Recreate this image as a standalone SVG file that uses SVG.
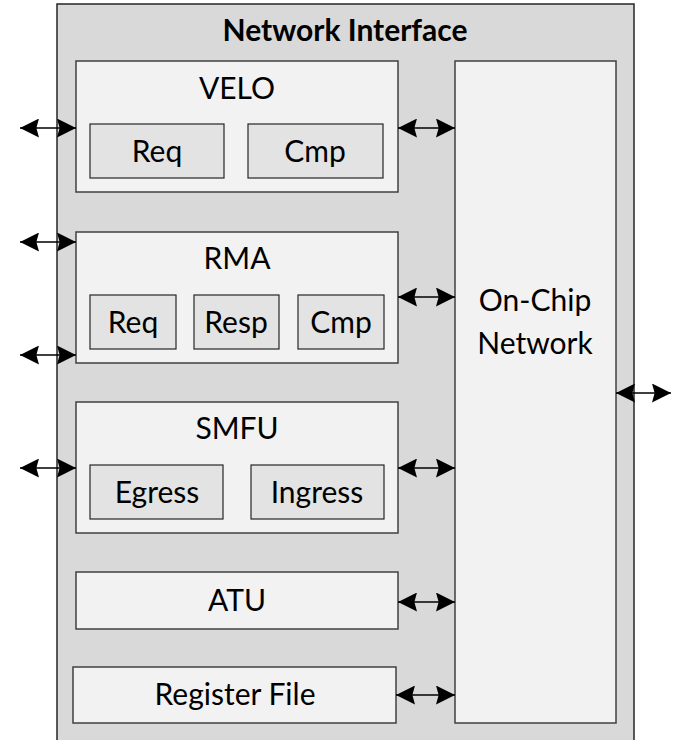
<svg xmlns="http://www.w3.org/2000/svg" width="673" height="740" viewBox="0 0 673 740">
<defs>
<marker id="ah" viewBox="0 0 18 18" refX="18" refY="9" markerWidth="19" markerHeight="19" markerUnits="userSpaceOnUse" orient="auto-start-reverse">
<path d="M0,0 L18,9 L0,18 L2.5,9 z" fill="#000"/>
</marker>
<style>
.outer{fill:#d9d9d9;stroke:#262626;stroke-width:1.5}
.box{fill:#f2f2f2;stroke:#404040;stroke-width:1.5}
.sub{fill:#e3e3e3;stroke:#262626;stroke-width:1.2}
.t{font-family:Lato,"Liberation Sans",sans-serif;font-size:30px;fill:#000;text-anchor:middle}
.b{font-weight:bold;font-size:30px}
.c{stroke:#000;stroke-width:1.4;fill:none;marker-start:url(#ah);marker-end:url(#ah)}
</style>
</defs>
<rect width="673" height="740" fill="#fff"/>
<g id="network-interface">
<rect class="outer" x="57" y="4" width="577" height="745"/>
<text class="t b" x="345" y="41">Network Interface</text>
</g>
<g id="velo">
<rect class="box" x="76" y="61" width="322" height="131"/>
<text class="t" x="237" y="99">VELO</text>
</g>
<g id="velo-req">
<rect class="sub" x="90" y="124" width="134" height="54"/>
<text class="t" x="157" y="162">Req</text>
</g>
<g id="velo-cmp">
<rect class="sub" x="248" y="124" width="135" height="54"/>
<text class="t" x="315" y="162">Cmp</text>
</g>
<g id="rma">
<rect class="box" x="76" y="232" width="322" height="131"/>
<text class="t" x="237" y="269">RMA</text>
</g>
<g id="rma-req">
<rect class="sub" x="90" y="295" width="86" height="54"/>
<text class="t" x="133" y="333">Req</text>
</g>
<g id="rma-resp">
<rect class="sub" x="194" y="295" width="85" height="54"/>
<text class="t" x="236" y="333">Resp</text>
</g>
<g id="rma-cmp">
<rect class="sub" x="298" y="295" width="86" height="54"/>
<text class="t" x="341" y="333">Cmp</text>
</g>
<g id="smfu">
<rect class="box" x="76" y="402" width="322" height="131"/>
<text class="t" x="237" y="439">SMFU</text>
</g>
<g id="smfu-egress">
<rect class="sub" x="90" y="465" width="133" height="54"/>
<text class="t" x="157" y="503">Egress</text>
</g>
<g id="smfu-ingress">
<rect class="sub" x="251" y="465" width="133" height="54"/>
<text class="t" x="317" y="503">Ingress</text>
</g>
<g id="atu">
<rect class="box" x="76" y="572" width="322" height="57"/>
<text class="t" x="237" y="611">ATU</text>
</g>
<g id="register-file">
<rect class="box" x="73" y="667" width="323" height="56"/>
<text class="t" x="235" y="705">Register File</text>
</g>
<g id="on-chip-network">
<rect class="box" x="455" y="61" width="161" height="662"/>
<text class="t" x="535" y="311">On-Chip</text>
<text class="t" x="535" y="354">Network</text>
</g>
<g id="connectors">
<line class="c" x1="20" y1="128" x2="76" y2="128"/>
<line class="c" x1="20" y1="242" x2="76" y2="242"/>
<line class="c" x1="20" y1="355" x2="76" y2="355"/>
<line class="c" x1="20" y1="468" x2="76" y2="468"/>
<line class="c" x1="398" y1="128" x2="455" y2="128"/>
<line class="c" x1="398" y1="297" x2="455" y2="297"/>
<line class="c" x1="398" y1="468" x2="455" y2="468"/>
<line class="c" x1="398" y1="602" x2="455" y2="602"/>
<line class="c" x1="396" y1="695" x2="455" y2="695"/>
<line class="c" x1="616" y1="393" x2="671" y2="393"/>
</g>
</svg>
